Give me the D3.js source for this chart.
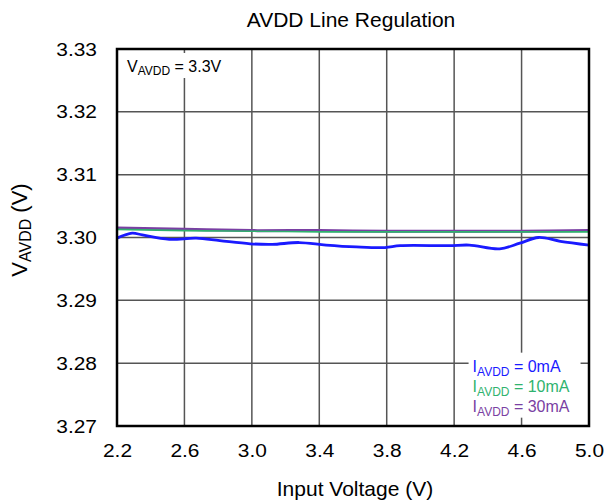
<!DOCTYPE html>
<html>
<head>
<meta charset="utf-8">
<script src="https://cdn.jsdelivr.net/npm/d3@7"></script>
<style>
  body { margin: 0; background: #fff; }
  text { font-family: "Liberation Sans", Arial, sans-serif; }
</style>
</head>
<body>
<div id="chart"></div>
<script>
// data
var xTicks = [2.2, 2.6, 3.0, 3.4, 3.8, 4.2, 4.6, 5.0];
var yTicks = [3.27, 3.28, 3.29, 3.30, 3.31, 3.32, 3.33];

var vin0mA = [2.2, 2.29, 2.35, 2.51, 2.67, 2.81, 2.99, 3.12, 3.28, 3.44, 3.62, 3.79, 3.88, 4.17, 4.29, 4.47, 4.59, 4.70, 4.83, 5.0];
var vout0mA = [3.2999, 3.3007, 3.3004, 3.2997, 3.2999, 3.2995, 3.2990, 3.2989, 3.2992, 3.2988, 3.2985, 3.2984, 3.2987, 3.2987, 3.2988, 3.2982, 3.2991, 3.3000, 3.2994, 3.2988];

var vin10mA = [2.2, 2.6, 3.0, 3.4, 3.8, 4.2, 4.6, 5.0];
var vout10mA = [3.3013, 3.3011, 3.3010, 3.3009, 3.3009, 3.3009, 3.3009, 3.3009];

var vin30mA = [2.2, 2.6, 3.0, 3.4, 3.8, 4.2, 4.6, 5.0];
var vout30mA = [3.3015, 3.3013, 3.3011, 3.3011, 3.3010, 3.3010, 3.3010, 3.3011];

var seriesNames = ["0mA", "10mA", "30mA"];
var colors = ["#1a1aff", "#2fb36e", "#7a3fa3"];

var W = 604, H = 501;
var margin = {top: 49, left: 117, bottom: 75, right: 15},
    width = W - margin.left - margin.right,
    height = H - margin.top - margin.bottom;

var svg = d3.select("#chart").append("svg")
    .attr("width", W).attr("height", H);

var g = svg.append("g")
    .attr("transform", "translate(" + margin.left + "," + margin.top + ")");

var x = d3.scaleLinear().domain([2.2, 5.0]).range([0, width]);
var y = d3.scaleLinear().domain([3.27, 3.33]).range([height, 0]);

// grid
g.append("g").selectAll("line").data(xTicks.slice(1, -1)).enter().append("line")
    .attr("x1", d => x(d)).attr("x2", d => x(d))
    .attr("y1", 0).attr("y2", height)
    .attr("stroke", "#555").attr("stroke-width", 1.5);
g.append("g").selectAll("line").data(yTicks.slice(1, -1)).enter().append("line")
    .attr("y1", d => y(d)).attr("y2", d => y(d))
    .attr("x1", 0).attr("x2", width)
    .attr("stroke", "#555").attr("stroke-width", 1.5);

// axes (labels only) - the tick font in the original is a bit wide, so stretch it
var sx = 1.1;
var xAxis = g.append("g")
    .attr("transform", "translate(0," + height + ")")
    .call(d3.axisBottom(x).tickValues(xTicks).tickFormat(d3.format(".1f")).tickSize(0).tickPadding(18));
var yAxis = g.append("g")
    .call(d3.axisLeft(y).tickValues(yTicks).tickFormat(d3.format(".2f")).tickSize(0).tickPadding(20));
[xAxis, yAxis].forEach(function(a) {
  a.select(".domain").remove();
  a.selectAll("text").attr("font-size", 19).attr("fill", "#000")
    .attr("font-family", "Liberation Sans, Arial, sans-serif")
    .attr("transform", "scale(" + sx + ",1)");
});
yAxis.selectAll("text").attr("x", -20 / sx);

// lines
var line = d3.line()
    .x(d => x(d[0])).y(d => y(d[1]))
    .curve(d3.curveCatmullRom);

var series = [
  {xs: vin30mA, ys: vout30mA, c: colors[2], w: 3},
  {xs: vin10mA, ys: vout10mA, c: colors[1], w: 1.6},
  {xs: vin0mA, ys: vout0mA, c: colors[0], w: 2.8}
];
series.forEach(function(s) {
  g.append("path")
    .datum(s.xs.map((v, i) => [v, s.ys[i]]))
    .attr("d", line)
    .attr("fill", "none")
    .attr("stroke", s.c)
    .attr("stroke-width", s.w);
});

// annotation box top-left
g.append("rect").attr("x", 2).attr("y", 4).attr("width", 104).attr("height", 25).attr("fill", "#fff");
var ann = g.append("text").attr("x", 10).attr("y", 23).attr("font-size", 16).attr("fill", "#000");
ann.append("tspan").text("V");
ann.append("tspan").attr("font-size", 12).attr("dy", 3).text("AVDD");
ann.append("tspan").attr("dy", -3).text(" = 3.3V");

// legend
var leg = g.append("g").attr("transform", "translate(" + (x(4.6) - 53) + "," + (y(3.28) - 10.5) + ")");
leg.append("rect").attr("x", 0).attr("y", 0).attr("width", 112).attr("height", 65).attr("fill", "#fff");
seriesNames.forEach(function(n, i) {
  var t = leg.append("text").attr("x", 4).attr("y", 19 + i * 20)
    .attr("font-size", 16).attr("fill", colors[i]);
  t.append("tspan").text("I");
  t.append("tspan").attr("font-size", 12).attr("dy", 4).text("AVDD");
  t.append("tspan").attr("dy", -4).text(" = " + n);
});

// frame
g.append("rect").attr("x", 0).attr("y", 0).attr("width", width).attr("height", height)
    .attr("fill", "none").attr("stroke", "#000").attr("stroke-width", 2.5);

// titles
svg.append("text").attr("x", 351).attr("y", 27)
    .attr("text-anchor", "middle").attr("font-size", 21).text("AVDD Line Regulation");
svg.append("text").attr("x", 355).attr("y", 496)
    .attr("text-anchor", "middle").attr("font-size", 21).text("Input Voltage (V)");
var yl = svg.append("text")
    .attr("transform", "translate(27,230) rotate(-90)")
    .attr("text-anchor", "middle").attr("font-size", 22);
yl.append("tspan").text("V");
yl.append("tspan").attr("font-size", 16).attr("dy", 4).text("AVDD");
yl.append("tspan").attr("dy", -4).text(" (V)");
</script>
</body>
</html>
